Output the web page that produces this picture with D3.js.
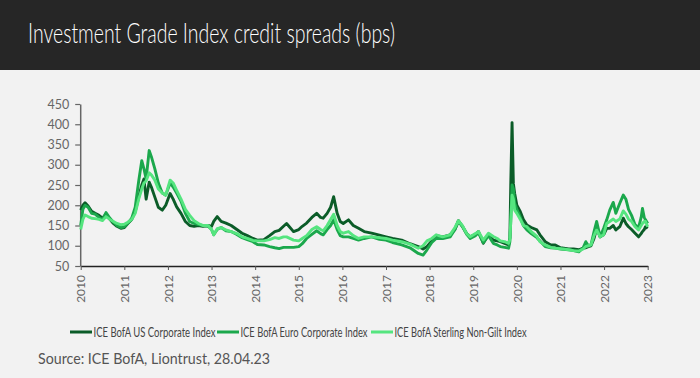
<!DOCTYPE html>
<html>
<head>
<meta charset="utf-8">
<script src="https://cdn.jsdelivr.net/npm/d3@7"></script>
<style>
	body { margin: 0; background: #f2f2f2; }
	svg { display: block; }
</style>
</head>
<body>
<div id="chart"></div>
<script>
// decimal year positions as they sit on the chart axis
var dates = [
	2010.00, 2010.05, 2010.10, 2010.17, 2010.25, 2010.33, 2010.42, 2010.50, 2010.58, 2010.67,
	2010.75, 2010.83, 2010.92, 2011.00, 2011.08, 2011.17, 2011.25, 2011.33, 2011.40, 2011.45,
	2011.50, 2011.57, 2011.62, 2011.70, 2011.78, 2011.87, 2011.95, 2012.05, 2012.12, 2012.20,
	2012.30, 2012.40, 2012.50, 2012.60, 2012.70, 2012.80, 2012.92, 2013.00, 2013.05, 2013.13,
	2013.22, 2013.33, 2013.45, 2013.58, 2013.70, 2013.82, 2013.95, 2014.05, 2014.20, 2014.33,
	2014.45, 2014.55, 2014.65, 2014.72, 2014.88, 2015.00, 2015.08, 2015.18, 2015.30, 2015.41,
	2015.50, 2015.56, 2015.65, 2015.73, 2015.80, 2015.88, 2015.95, 2016.02, 2016.14, 2016.25,
	2016.37, 2016.50, 2016.67, 2016.85, 2017.00, 2017.15, 2017.36, 2017.55, 2017.74, 2017.85,
	2017.94, 2018.05, 2018.15, 2018.30, 2018.47, 2018.58, 2018.66, 2018.75, 2018.85, 2018.93,
	2019.05, 2019.12, 2019.23, 2019.35, 2019.46, 2019.55, 2019.62, 2019.72, 2019.81, 2019.84,
	2019.86, 2019.89, 2019.92, 2019.95, 2020.00, 2020.08, 2020.15, 2020.23, 2020.33, 2020.46,
	2020.53, 2020.65, 2020.78, 2020.88, 2021.00, 2021.19, 2021.30, 2021.42, 2021.52, 2021.58,
	2021.64, 2021.70, 2021.77, 2021.83, 2021.91, 2021.99, 2022.06, 2022.13, 2022.21, 2022.27,
	2022.36, 2022.44, 2022.50, 2022.56, 2022.63, 2022.71, 2022.79, 2022.85, 2022.88, 2022.92,
	2022.95, 2023.00
];

var usCorporate = [
	188, 200, 206, 198, 185, 180, 175, 168, 178, 165,
	155, 148, 143, 145, 155, 165, 185, 220, 250, 265,
	215, 257, 245, 220, 195, 188, 200, 229, 215, 196,
	180, 160, 150, 148, 150, 148, 150, 148, 160, 172,
	160, 156, 150, 140, 131, 125, 118, 114, 115, 125,
	135, 138, 148, 155, 135, 140, 148, 156, 170, 180,
	170, 168, 180, 195, 221, 180, 160, 155, 164, 150,
	143, 135, 131, 126, 122, 118, 114, 105, 98, 92,
	98, 112, 125, 122, 127, 140, 162, 148, 130, 122,
	128, 135, 106, 128, 114, 112, 110, 106, 102, 120,
	250, 404, 254, 229, 200, 184, 165, 151, 145, 139,
	127, 110, 102, 102, 95, 92, 92, 90, 94, 95,
	98, 100, 118, 143, 122, 127, 143, 143, 150, 139,
	147, 168, 155, 147, 140, 131, 122, 130, 135, 140,
	147, 143
];

var euroCorporate = [
	150, 190, 200, 195, 180, 178, 170, 165, 182, 168,
	158, 150, 145, 147, 155, 168, 195, 260, 310, 290,
	265, 335, 320, 290, 255, 230, 225, 255, 245, 230,
	210, 180, 160, 155, 152, 150, 148, 140, 127, 140,
	145, 137, 135, 128, 120, 115, 110, 103, 102, 98,
	95, 93, 96, 96, 96, 98, 105, 118, 128, 137,
	130, 127, 140, 150, 164, 140, 125, 122, 122, 118,
	114, 118, 122, 116, 114, 108, 102, 95, 81, 77,
	90, 108, 118, 118, 122, 140, 160, 148, 128, 118,
	125, 132, 108, 125, 106, 102, 98, 96, 94, 110,
	160, 250, 240, 205, 190, 170, 150, 139, 130, 120,
	112, 98, 95, 94, 92, 90, 88, 85, 95, 110,
	100, 102, 135, 160, 122, 143, 164, 188, 207, 180,
	205, 225, 215, 190, 175, 152, 145, 170, 192, 170,
	164, 155
];

var sterlingNonGilt = [
	140, 165, 176, 172, 168, 167, 165, 162, 172, 165,
	160, 155, 152, 153, 158, 165, 180, 215, 240, 255,
	260, 280, 275, 262, 240, 230, 225, 262, 255, 237,
	215, 190, 175, 162, 155, 150, 150, 140, 127, 142,
	145, 139, 135, 130, 122, 118, 113, 112, 112, 115,
	120, 118, 122, 122, 114, 112, 118, 125, 140, 147,
	140, 137, 150, 165, 178, 150, 135, 131, 135, 125,
	118, 122, 122, 120, 118, 114, 110, 104, 94, 100,
	112, 118, 127, 122, 127, 145, 162, 150, 130, 122,
	130, 135, 114, 131, 123, 118, 112, 110, 106, 115,
	160, 225, 215, 188, 180, 165, 150, 147, 135, 123,
	110, 102, 96, 94, 93, 90, 88, 87, 92, 98,
	100, 102, 125, 139, 122, 127, 155, 160, 166, 160,
	166, 186, 178, 166, 160, 147, 139, 150, 155, 160,
	160, 147
];

var seriesNames = ["ICE BofA US Corporate Index", "ICE BofA Euro Corporate Index", "ICE BofA Sterling Non-Gilt Index"];
var seriesColors = ["#0b5c28", "#1ba84c", "#55e57f"];
var yTicks = [50, 100, 150, 200, 250, 300, 350, 400, 450];
var xTicks = [2010, 2011, 2012, 2013, 2014, 2015, 2016, 2017, 2018, 2019, 2020, 2021, 2022, 2023];

var WIDTH = 700, HEIGHT = 378,
	BAND_H = 70,
	LEFT = 80.7, RIGHT = 647.7, TOP = 104, BOTTOM = 266,
	FONT = "Lato, 'Open Sans', sans-serif";

var svg = d3.select("#chart")
	.append("svg")
	.attr("width", WIDTH)
	.attr("height", HEIGHT);

svg.append("rect")
	.attr("width", WIDTH).attr("height", HEIGHT)
	.attr("fill", "#f2f2f2");

// title band
svg.append("rect")
	.attr("width", WIDTH).attr("height", BAND_H)
	.attr("fill", "#262626");
svg.append("text")
	.attr("x", 28).attr("y", 43)
	.attr("font-family", FONT)
	.attr("font-size", 27)
	.attr("font-weight", 300)
	.attr("fill", "#ffffff")
	.attr("textLength", 367)
	.attr("lengthAdjust", "spacingAndGlyphs")
	.text("Investment Grade Index credit spreads (bps)");

var x = d3.scaleLinear().domain([2010, 2023]).range([LEFT, RIGHT]);
var y = d3.scaleLinear().domain([50, 450]).range([BOTTOM, TOP]);

var yAxis = d3.axisLeft(y).tickValues(yTicks).tickSize(5).tickPadding(6).tickSizeOuter(0);
var xAxis = d3.axisBottom(x).tickValues(xTicks).tickFormat(d3.format("d")).tickSize(4).tickSizeOuter(0);

var gy = svg.append("g")
	.attr("transform", "translate(" + (LEFT - 0.5) + ",0)")
	.call(yAxis);
gy.select(".domain").attr("stroke", "#666").attr("stroke-width", 1.5);
gy.selectAll(".tick line").attr("stroke", "#666").attr("stroke-width", 1.2);
gy.selectAll("text")
	.attr("font-family", FONT)
	.attr("font-size", 12.5)
	.attr("fill", "#666");

var gx = svg.append("g")
	.attr("transform", "translate(0," + BOTTOM + ")")
	.call(xAxis);
gx.select(".domain").attr("stroke", "#222").attr("stroke-width", 1.3);
gx.selectAll(".tick line").attr("stroke", "#555");
gx.selectAll("text")
	.attr("font-family", FONT)
	.attr("font-size", 12)
	.attr("fill", "#666")
	.attr("transform", "rotate(-90)")
	.attr("text-anchor", "end")
	.attr("x", -9)
	.attr("y", 0)
	.attr("dy", "0.35em");

// lines, light green on top
var allSeries = [usCorporate, euroCorporate, sterlingNonGilt];
var line = d3.line()
	.x(function(d, i) { return x(dates[i]); })
	.y(function(d) { return y(d); });

svg.selectAll(".series")
	.data(allSeries)
	.enter()
	.append("path")
	.attr("class", "series")
	.attr("fill", "none")
	.attr("stroke", function(d, i) { return seriesColors[i]; })
	.attr("stroke-width", 2.9)
	.attr("stroke-linejoin", "round")
	.attr("d", line);

// legend
var legendX = [70, 217, 371], legendW = [122, 127, 132];
var legend = svg.selectAll(".legend")
	.data(seriesNames)
	.enter().append("g")
	.attr("class", "legend")
	.attr("transform", function(d, i) { return "translate(" + legendX[i] + ",332)"; });
legend.append("line")
	.attr("x1", 0).attr("x2", 22)
	.attr("stroke", function(d, i) { return seriesColors[i]; })
	.attr("stroke-width", 3);
legend.append("text")
	.attr("x", 23.5)
	.attr("dy", "0.36em")
	.attr("font-family", FONT)
	.attr("font-size", 12.5)
	.attr("fill", "#444")
	.attr("textLength", function(d, i) { return legendW[i]; })
	.attr("lengthAdjust", "spacingAndGlyphs")
	.text(function(d) { return d; });

svg.append("text")
	.attr("x", 38).attr("y", 364)
	.attr("font-family", FONT)
	.attr("font-size", 15)
	.attr("fill", "#555")
	.attr("textLength", 232)
	.attr("lengthAdjust", "spacingAndGlyphs")
	.text("Source: ICE BofA, Liontrust, 28.04.23");
</script>
</body>
</html>
